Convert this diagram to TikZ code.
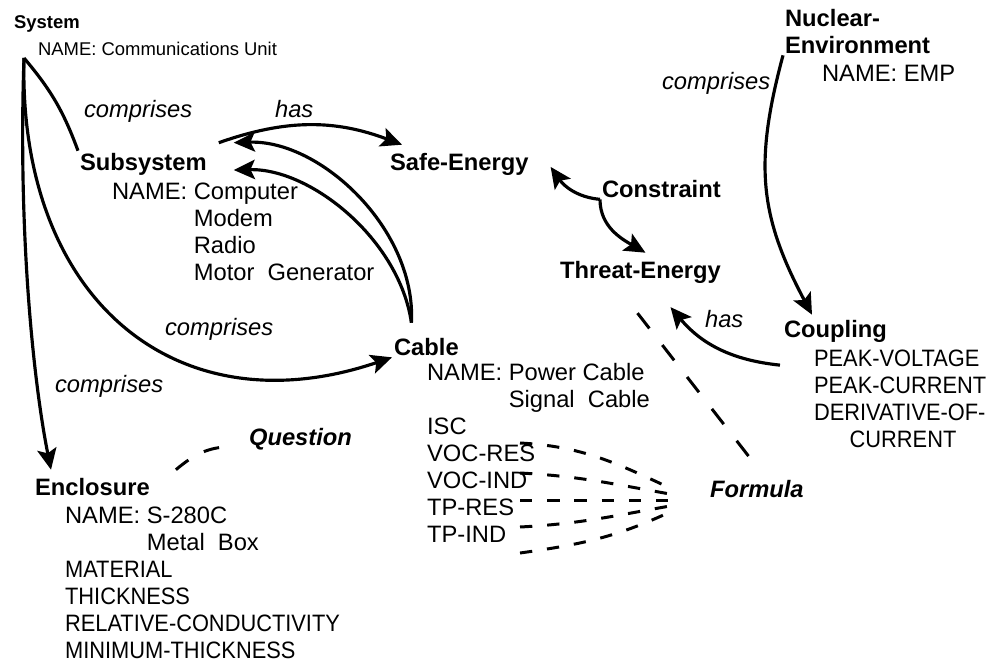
\documentclass[tikz,border=0pt]{standalone}
\usepackage{fontspec}
\setmainfont{Liberation Sans}
\newfontfamily\capsfont{Liberation Sans}[FakeStretch=0.92]
\usetikzlibrary{arrows.meta,calc}
\tikzset{
  ent/.style={font=\fontsize{13.5}{15.3}\selectfont\bfseries, anchor=base west, inner sep=1pt, align=left},
  att/.style={font=\fontsize{13.5}{15.3}\selectfont, anchor=base west, inner sep=1pt, align=left},
  rel/.style={font=\fontsize{13.5}{15.3}\selectfont\itshape, anchor=base west, inner sep=1pt},
  link/.style={line width=1.8pt},
  arr/.style={link, -{Stealth[length=12pt,width=11pt,inset=2.5pt]}},
  dsh/.style={line width=1.7pt, dash pattern=on 7pt off 8.5pt},
}
\newcommand{\nameind}{\phantom{NAME: }}

\begin{document}
\begin{tikzpicture}[x=0.02cm,y=0.02cm]
            \useasboundingbox (0,0) rectangle (994,-663);
            \node[ent,font=\fontsize{10.5}{12}\selectfont\bfseries] (sys) at (12,-28) {System};
            \node[att,font=\fontsize{10.5}{12}\selectfont] (sysn) at (36,-55) {NAME: Communications Unit};
            \node[ent] (sub) at (78,-170) {Subsystem};
            \node[att] (subn) at (110,-280) {NAME: Computer\\ \nameind Modem\\ \nameind Radio\\ \nameind Motor\ \ Generator};
            \node[ent] (safe) at (388,-170) {Safe-Energy};
            \node[ent] (con) at (600,-197) {Constraint};
            \node[ent] (threat) at (558,-278) {Threat-Energy};
            \node[ent,font=\fontsize{13.5}{14.8}\selectfont\bfseries] (nuc) at (783,-53) {Nuclear-\\Environment};
            \node[att] (nucn) at (820,-81) {NAME: EMP};
            \node[ent] (coup) at (782,-337) {Coupling};
            \node[att,font=\fontsize{13.5}{15.3}\selectfont\capsfont] (coupn) at (812,-447) {PEAK-VOLTAGE\\PEAK-CURRENT\\DERIVATIVE-OF-\\\hspace*{1.5em}CURRENT};
            \node[ent] (cable) at (392,-355) {Cable};
            \node[att] (cablen) at (425,-542) {NAME: Power Cable\\ \nameind Signal\ \ Cable\\ ISC\\ VOC-RES\\ VOC-IND\\ TP-RES\\ TP-IND};
            \node[ent] (enc) at (33,-495) {Enclosure};
            \node[att] (encn) at (63,-658) {NAME: S-280C\\ \nameind Metal\ \ Box\\ {\capsfont MATERIAL}\\ {\capsfont THICKNESS}\\ {\capsfont RELATIVE-CONDUCTIVITY}\\ {\capsfont MINIMUM-THICKNESS}};
            \node[rel] (r1) at (82,-117) {comprises};
            \node[rel] (r2) at (273,-117) {has};
            \node[rel] (r3) at (163,-335) {comprises};
            \node[rel] (r4) at (53,-392) {comprises};
            \node[rel] (r5) at (660,-89) {comprises};
            \node[rel] (r6) at (703,-327) {has};
            \node[rel] (q) at (247,-445) {\bfseries Question};
            \node[rel] (form) at (708,-497) {\bfseries Formula};
            \coordinate (sysfoot) at (24,-58);
            \coordinate (cabletop) at ($(cable.north)+(-15,13)$);
            \coordinate (fan) at (670,-500);
            \coordinate (d1) at (520,-443);
            \coordinate (d2) at (520,-473);
            \coordinate (d3) at (520,-500);
            \coordinate (d4) at (520,-527);
            \coordinate (d5) at (520,-553);
            \draw[link] (sysfoot) to[bend left=10] (sub.north west);
            \draw[arr] (sysfoot) .. controls +(-6,-172) and +(-18,90) .. ($(enc.north west)+(18,6)$);
            \draw[arr] (sysfoot) .. controls +(-6,-242) and +(-215,-73) .. (cable.south west);
            \draw[arr] ($(sub.north east)+(10,8)$) to[bend left=20] ($(safe.north west)+(14,6)$);
            \draw[arr] (cabletop) .. controls +(5,93) and +(87,3) .. ($(sub.north east)+(25,8)$);
            \draw[arr] (cabletop) .. controls +(-12,83) and +(77,2) .. ($(sub.south east)+(25,7)$);
            \draw[arr] (con.south west) to[out=175,in=-55] ($(safe.east)+(20,-3)$);
            \draw[arr] (con.south west) to[out=-90,in=150] ($(threat.north)+(5,6)$);
            \draw[arr] (nuc.south west) to[out=-105,in=118,looseness=1.1] ($(coup.north west)+(30,3)$);
            \draw[arr] ($(coup.south west)+(-2,-21)$) to[bend left=22] ($(threat.south)+(30,-22)$);
            \draw[dsh,dash pattern=on 11pt off 12pt] ($(threat.south)+(-3,-28)$) -- ($(form.north)+(-4,16)$);
            \draw[dsh,dash pattern=on 9pt off 10pt] ($(enc.north east)+(24,6)$) to[out=40,in=180] ($(q.west)+(-15,-8)$);
            \draw[dsh] (d1) to[out=-3,in=155] ($(fan)+(0,12)$);
            \draw[dsh] (d2) to[out=-3,in=170] ($(fan)+(0,6)$);
            \draw[dsh] (d3) -- (fan);
            \draw[dsh] (d4) to[out=3,in=190] ($(fan)+(0,-6)$);
            \draw[dsh] (d5) to[out=8,in=205] ($(fan)+(0,-12)$);
\end{tikzpicture}
\end{document}
